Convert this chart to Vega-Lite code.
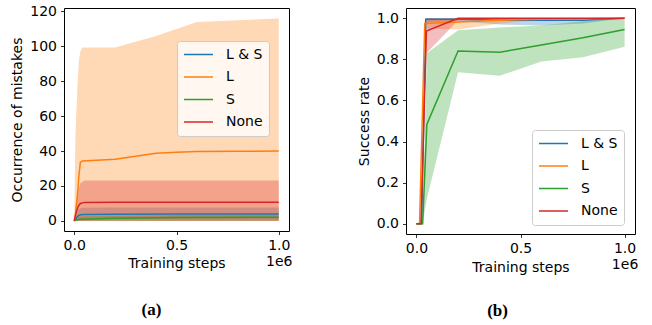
{
  "$schema": "https://vega.github.io/schema/vega-lite/v6.json",
  "padding": {"left": 10, "top": 3, "right": 0, "bottom": 0},
  "background": "white",
  "datasets": {
    "mistakes": [
      {"series": "L & S", "x": 0, "mean": 0, "lo": 0, "hi": 0},
      {"series": "L & S", "x": 0.01, "mean": 1.6, "lo": 0.3, "hi": 3.5},
      {"series": "L & S", "x": 0.02, "mean": 2.9, "lo": 0.6, "hi": 6.2},
      {"series": "L & S", "x": 0.03, "mean": 3.5, "lo": 0.8, "hi": 7.2},
      {"series": "L & S", "x": 0.05, "mean": 3.7, "lo": 0.8, "hi": 7.5},
      {"series": "L & S", "x": 0.2, "mean": 3.8, "lo": 0.8, "hi": 7.6},
      {"series": "L & S", "x": 0.5, "mean": 3.9, "lo": 0.8, "hi": 7.6},
      {"series": "L & S", "x": 1.0, "mean": 4.0, "lo": 0.8, "hi": 7.6},
      {"series": "L", "x": 0, "mean": 0, "lo": 0, "hi": 0},
      {"series": "L", "x": 0.006, "mean": 4, "lo": 0, "hi": 50},
      {"series": "L", "x": 0.015, "mean": 14, "lo": 0, "hi": 75},
      {"series": "L", "x": 0.023, "mean": 26, "lo": 0, "hi": 92},
      {"series": "L", "x": 0.03, "mean": 33.5, "lo": 0, "hi": 97},
      {"series": "L", "x": 0.04, "mean": 34.3, "lo": 0, "hi": 99.4},
      {"series": "L", "x": 0.2, "mean": 35.3, "lo": 0, "hi": 99.4},
      {"series": "L", "x": 0.3, "mean": 37, "lo": 0, "hi": 102.7},
      {"series": "L", "x": 0.4, "mean": 38.8, "lo": 0, "hi": 106},
      {"series": "L", "x": 0.5, "mean": 39.4, "lo": 0, "hi": 110},
      {"series": "L", "x": 0.6, "mean": 39.7, "lo": 0, "hi": 114},
      {"series": "L", "x": 0.8, "mean": 39.9, "lo": 0, "hi": 115},
      {"series": "L", "x": 1.0, "mean": 40, "lo": 0, "hi": 116},
      {"series": "S", "x": 0, "mean": 0, "lo": 0, "hi": 0},
      {"series": "S", "x": 0.01, "mean": 0.5, "lo": 0, "hi": 1.5},
      {"series": "S", "x": 0.02, "mean": 0.8, "lo": 0, "hi": 2.2},
      {"series": "S", "x": 0.04, "mean": 1.0, "lo": 0, "hi": 2.6},
      {"series": "S", "x": 0.2, "mean": 1.5, "lo": 0, "hi": 3.0},
      {"series": "S", "x": 0.5, "mean": 1.9, "lo": 0, "hi": 3.3},
      {"series": "S", "x": 1.0, "mean": 2.1, "lo": 0, "hi": 3.4},
      {"series": "None", "x": 0, "mean": 0, "lo": 0, "hi": 0},
      {"series": "None", "x": 0.01, "mean": 5, "lo": 0, "hi": 11},
      {"series": "None", "x": 0.02, "mean": 8.5, "lo": 0, "hi": 18},
      {"series": "None", "x": 0.03, "mean": 10, "lo": 0, "hi": 21.5},
      {"series": "None", "x": 0.05, "mean": 10.6, "lo": 0, "hi": 23.2},
      {"series": "None", "x": 0.2, "mean": 10.7, "lo": 0, "hi": 23.2},
      {"series": "None", "x": 1.0, "mean": 10.7, "lo": 0, "hi": 23.2}
    ],
    "success": [
      {"series": "L & S", "x": 0, "mean": 0, "lo": 0, "hi": 0},
      {"series": "L & S", "x": 0.025, "mean": 0, "lo": 0, "hi": 0},
      {"series": "L & S", "x": 0.045, "mean": 0.995, "lo": 0.98, "hi": 1.0},
      {"series": "L & S", "x": 0.2, "mean": 0.995, "lo": 0.985, "hi": 1.0},
      {"series": "L & S", "x": 0.4, "mean": 0.99, "lo": 0.97, "hi": 1.0},
      {"series": "L & S", "x": 0.6, "mean": 0.99, "lo": 0.965, "hi": 1.0},
      {"series": "L & S", "x": 0.8, "mean": 0.99, "lo": 0.975, "hi": 1.0},
      {"series": "L & S", "x": 1.0, "mean": 1.0, "lo": 1.0, "hi": 1.0},
      {"series": "L", "x": 0, "mean": 0, "lo": 0, "hi": 0},
      {"series": "L", "x": 0.015, "mean": 0, "lo": 0, "hi": 0},
      {"series": "L", "x": 0.04, "mean": 0.975, "lo": 0.95, "hi": 1.0},
      {"series": "L", "x": 0.2, "mean": 0.982, "lo": 0.945, "hi": 1.0},
      {"series": "L", "x": 0.4, "mean": 0.99, "lo": 0.975, "hi": 1.0},
      {"series": "L", "x": 0.6, "mean": 0.995, "lo": 0.99, "hi": 1.0},
      {"series": "L", "x": 0.8, "mean": 0.998, "lo": 0.995, "hi": 1.0},
      {"series": "L", "x": 1.0, "mean": 1.0, "lo": 1.0, "hi": 1.0},
      {"series": "S", "x": 0, "mean": 0, "lo": 0, "hi": 0},
      {"series": "S", "x": 0.03, "mean": 0, "lo": 0, "hi": 0.02},
      {"series": "S", "x": 0.05, "mean": 0.483, "lo": 0.12, "hi": 0.83},
      {"series": "S", "x": 0.2, "mean": 0.841, "lo": 0.737, "hi": 0.942},
      {"series": "S", "x": 0.4, "mean": 0.835, "lo": 0.72, "hi": 0.955},
      {"series": "S", "x": 0.6, "mean": 0.87, "lo": 0.79, "hi": 0.965},
      {"series": "S", "x": 0.8, "mean": 0.905, "lo": 0.81, "hi": 0.985},
      {"series": "S", "x": 1.0, "mean": 0.945, "lo": 0.861, "hi": 1.0},
      {"series": "None", "x": 0, "mean": 0, "lo": 0, "hi": 0},
      {"series": "None", "x": 0.022, "mean": 0, "lo": 0, "hi": 0},
      {"series": "None", "x": 0.048, "mean": 0.938, "lo": 0.83, "hi": 1.0},
      {"series": "None", "x": 0.2, "mean": 1.0, "lo": 0.99, "hi": 1.0},
      {"series": "None", "x": 0.4, "mean": 1.0, "lo": 1.0, "hi": 1.0},
      {"series": "None", "x": 1.0, "mean": 1.0, "lo": 1.0, "hi": 1.0}
    ]
  },
  "hconcat": [
    {
      "width": 225,
      "height": 223,
      "title": {"text": "(a)", "orient": "bottom", "anchor": "middle", "frame": "bounds", "font": "Liberation Serif", "fontSize": 17, "fontWeight": "bold", "color": "black", "offset": 32},
      "data": {"name": "mistakes"},
      "encoding": {
        "x": {"field": "x", "type": "quantitative", "scale": {"domain": [-0.05, 1.05], "nice": false, "zero": false},
          "axis": {"title": "Training steps", "values": [0, 0.5, 1], "format": ".1f", "labelExpr": "datum.value == 1 ? ['1.0', '1e6'] : datum.label", "titleY": 32, "titleBaseline": "middle",
            "domain": false, "grid": false, "tickColor": "black", "tickSize": 3.5, "tickWidth": 0.8, "labelFont": "DejaVu Sans", "labelFontSize": 14, "labelColor": "black", "labelPadding": 4, "labelFlush": false, "labelOverlap": false, "labelLineHeight": 16, "titleFont": "DejaVu Sans", "titleFontSize": 14, "titleFontWeight": "normal", "titleColor": "black"}}
      },
      "layer": [
        {"transform": [{"filter": "datum.series == 'L & S'"}], "mark": {"type": "area", "opacity": 0.3, "color": "#1f77b4"},
         "encoding": {"y": {"field": "lo", "type": "quantitative"}, "y2": {"field": "hi"}}},
        {"transform": [{"filter": "datum.series == 'L'"}], "mark": {"type": "area", "opacity": 0.3, "color": "#ff7f0e"},
         "encoding": {"y": {"field": "lo", "type": "quantitative"}, "y2": {"field": "hi"}}},
        {"transform": [{"filter": "datum.series == 'S'"}], "mark": {"type": "area", "opacity": 0.3, "color": "#2ca02c"},
         "encoding": {"y": {"field": "lo", "type": "quantitative"}, "y2": {"field": "hi"}}},
        {"transform": [{"filter": "datum.series == 'None'"}], "mark": {"type": "area", "opacity": 0.3, "color": "#d62728"},
         "encoding": {"y": {"field": "lo", "type": "quantitative"}, "y2": {"field": "hi"}}},
        {
          "mark": {"type": "line", "strokeWidth": 1.5},
          "encoding": {
            "y": {"field": "mean", "type": "quantitative", "scale": {"domain": [-5.8, 122], "nice": false, "zero": false},
              "axis": {"title": "Occurrence of mistakes", "tickCount": 7, "values": [0, 20, 40, 60, 80, 100, 120], "format": "d",
                "domain": false, "grid": false, "tickColor": "black", "tickSize": 3.5, "tickWidth": 0.8, "labelFont": "DejaVu Sans", "labelFontSize": 14, "labelColor": "black", "labelPadding": 4, "labelFlush": false, "labelOverlap": false, "labelSeparation": -30, "titleFont": "DejaVu Sans", "titleFontSize": 14, "titleFontWeight": "normal", "titleColor": "black", "titlePadding": 5}},
            "color": {"field": "series", "type": "nominal", "scale": {"domain": ["L & S", "L", "S", "None"], "range": ["#1f77b4", "#ff7f0e", "#2ca02c", "#d62728"]},
              "legend": {"orient": "none", "legendX": 113, "legendY": 33, "title": null,
                "fillColor": "rgba(255,255,255,0.8)", "strokeColor": "#cccccc", "cornerRadius": 3, "padding": 6,
                "symbolType": "stroke", "symbolSize": 841, "symbolStrokeWidth": 1.5, "clipHeight": 15,
                "labelFont": "DejaVu Sans", "labelFontSize": 14, "labelColor": "black", "labelOffset": 12, "rowPadding": 7.5}}
          }
        }
      ]
    },
    {
      "width": 229,
      "height": 226,
      "title": {"text": "(b)", "orient": "bottom", "anchor": "middle", "frame": "bounds", "font": "Liberation Serif", "fontSize": 17, "fontWeight": "bold", "color": "black", "offset": 29},
      "data": {"name": "success"},
      "encoding": {
        "x": {"field": "x", "type": "quantitative", "scale": {"domain": [-0.05, 1.05], "nice": false, "zero": false},
          "axis": {"title": "Training steps", "values": [0, 0.5, 1], "format": ".1f", "labelExpr": "datum.value == 1 ? ['1.0', '1e6'] : datum.label", "titleY": 33, "titleBaseline": "middle",
            "domain": false, "grid": false, "tickColor": "black", "tickSize": 3.5, "tickWidth": 0.8, "labelFont": "DejaVu Sans", "labelFontSize": 14, "labelColor": "black", "labelPadding": 4, "labelFlush": false, "labelOverlap": false, "labelLineHeight": 16, "titleFont": "DejaVu Sans", "titleFontSize": 14, "titleFontWeight": "normal", "titleColor": "black"}}
      },
      "layer": [
        {"transform": [{"filter": "datum.series == 'L & S'"}], "mark": {"type": "area", "opacity": 0.3, "color": "#1f77b4"},
         "encoding": {"y": {"field": "lo", "type": "quantitative"}, "y2": {"field": "hi"}}},
        {"transform": [{"filter": "datum.series == 'L'"}], "mark": {"type": "area", "opacity": 0.3, "color": "#ff7f0e"},
         "encoding": {"y": {"field": "lo", "type": "quantitative"}, "y2": {"field": "hi"}}},
        {"transform": [{"filter": "datum.series == 'S'"}], "mark": {"type": "area", "opacity": 0.3, "color": "#2ca02c"},
         "encoding": {"y": {"field": "lo", "type": "quantitative"}, "y2": {"field": "hi"}}},
        {"transform": [{"filter": "datum.series == 'None'"}], "mark": {"type": "area", "opacity": 0.3, "color": "#d62728"},
         "encoding": {"y": {"field": "lo", "type": "quantitative"}, "y2": {"field": "hi"}}},
        {
          "mark": {"type": "line", "strokeWidth": 1.5},
          "encoding": {
            "y": {"field": "mean", "type": "quantitative", "scale": {"domain": [-0.05, 1.05], "nice": false, "zero": false},
              "axis": {"title": "Success rate", "values": [0, 0.2, 0.4, 0.6, 0.8, 1.0], "format": ".1f",
                "domain": false, "grid": false, "tickColor": "black", "tickSize": 3.5, "tickWidth": 0.8, "labelFont": "DejaVu Sans", "labelFontSize": 14, "labelColor": "black", "labelPadding": 4, "labelFlush": false, "labelOverlap": false, "titleFont": "DejaVu Sans", "titleFontSize": 14, "titleFontWeight": "normal", "titleColor": "black", "titlePadding": 5}},
            "color": {"field": "series", "type": "nominal", "scale": {"domain": ["L & S", "L", "S", "None"], "range": ["#1f77b4", "#ff7f0e", "#2ca02c", "#d62728"]},
              "legend": {"orient": "none", "legendX": 126, "legendY": 122, "title": null,
                "fillColor": "rgba(255,255,255,0.8)", "strokeColor": "#cccccc", "cornerRadius": 3, "padding": 6,
                "symbolType": "stroke", "symbolSize": 841, "symbolStrokeWidth": 1.5, "clipHeight": 15,
                "labelFont": "DejaVu Sans", "labelFontSize": 14, "labelColor": "black", "labelOffset": 12, "rowPadding": 7.5}}
          }
        }
      ]
    }
  ],
  "spacing": 63,
  "resolve": {"scale": {"color": "independent"}, "legend": {"color": "independent"}},
  "config": {
    "font": "DejaVu Sans",
    "view": {"stroke": "black", "strokeWidth": 1},
    "axis": {"labelOverlap": false}
  }
}
